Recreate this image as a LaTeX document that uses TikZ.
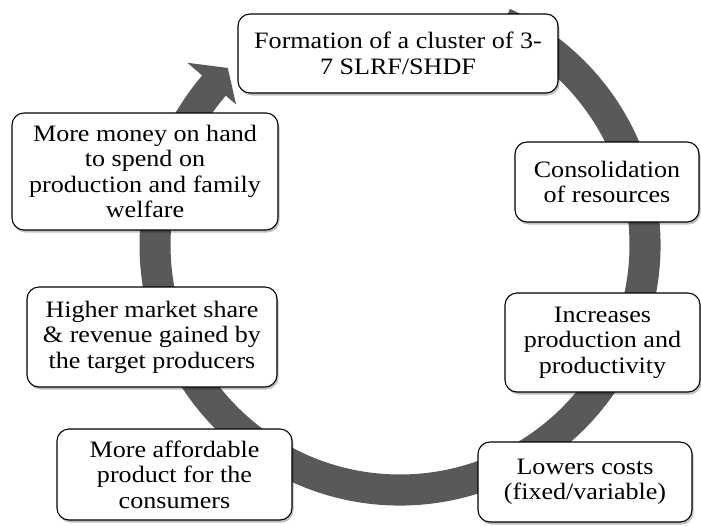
\documentclass[tikz,border=0pt]{standalone}
\usepackage{fontspec}
\setmainfont{Liberation Serif}[FakeStretch=1.11]
\usetikzlibrary{shadows,calc}
\definecolor{ringgray}{RGB}{89,89,89}
\begin{document}
\begin{tikzpicture}[x=1pt,y=1pt,
  box/.style={draw=black, line width=1.1pt, fill=white, rounded corners=12pt,
    align=center, inner sep=0pt, font=\fontsize{23.5}{25.5}\selectfont,
    drop shadow={shadow xshift=1.5pt, shadow yshift=-2.5pt, opacity=0.25, fill=black}}]
\useasboundingbox (0,0) rectangle (701,-525);
\coordinate (c) at (400,-245);
\fill[ringgray] ($(c)+(65:260.5)$) arc[start angle=65, end angle=-220.6, radius=260.5]
  -- ($(c)+(139.4:280)$) -- ($(c)+(134.2:247)$) -- ($(c)+(139.4:216)$)
  -- ($(c)+(139.4:229.5)$) arc[start angle=-220.6, end angle=65, radius=229.5] -- cycle;
\node[box, minimum width=320pt, minimum height=79pt] (n1) at (398,-53.5) {Formation of a cluster of 3-\\7 SLRF/SHDF};
\node[box, minimum width=184pt, minimum height=80pt] (n2) at (607,-182) {Consolidation\\of resources};
\node[box, minimum width=195pt, minimum height=99pt] (n3) at (602.5,-342.5) {Increases\\production and\\productivity};
\node[box, minimum width=214pt, minimum height=80pt] (n4) at (585,-482) {Lowers costs\\(fixed/variable)};
\node[box, minimum width=235pt, minimum height=91pt] (n5) at (174.5,-474.5) {More affordable\\product for the\\consumers};
\node[box, minimum width=250pt, minimum height=100pt] (n6) at (152,-337) {Higher market share\\\& revenue gained by\\the target producers};
\node[box, minimum width=266pt, minimum height=117pt] (n7) at (145,-171.5) {More money on hand\\to spend on\\production and family\\welfare};
\end{tikzpicture}
\end{document}
